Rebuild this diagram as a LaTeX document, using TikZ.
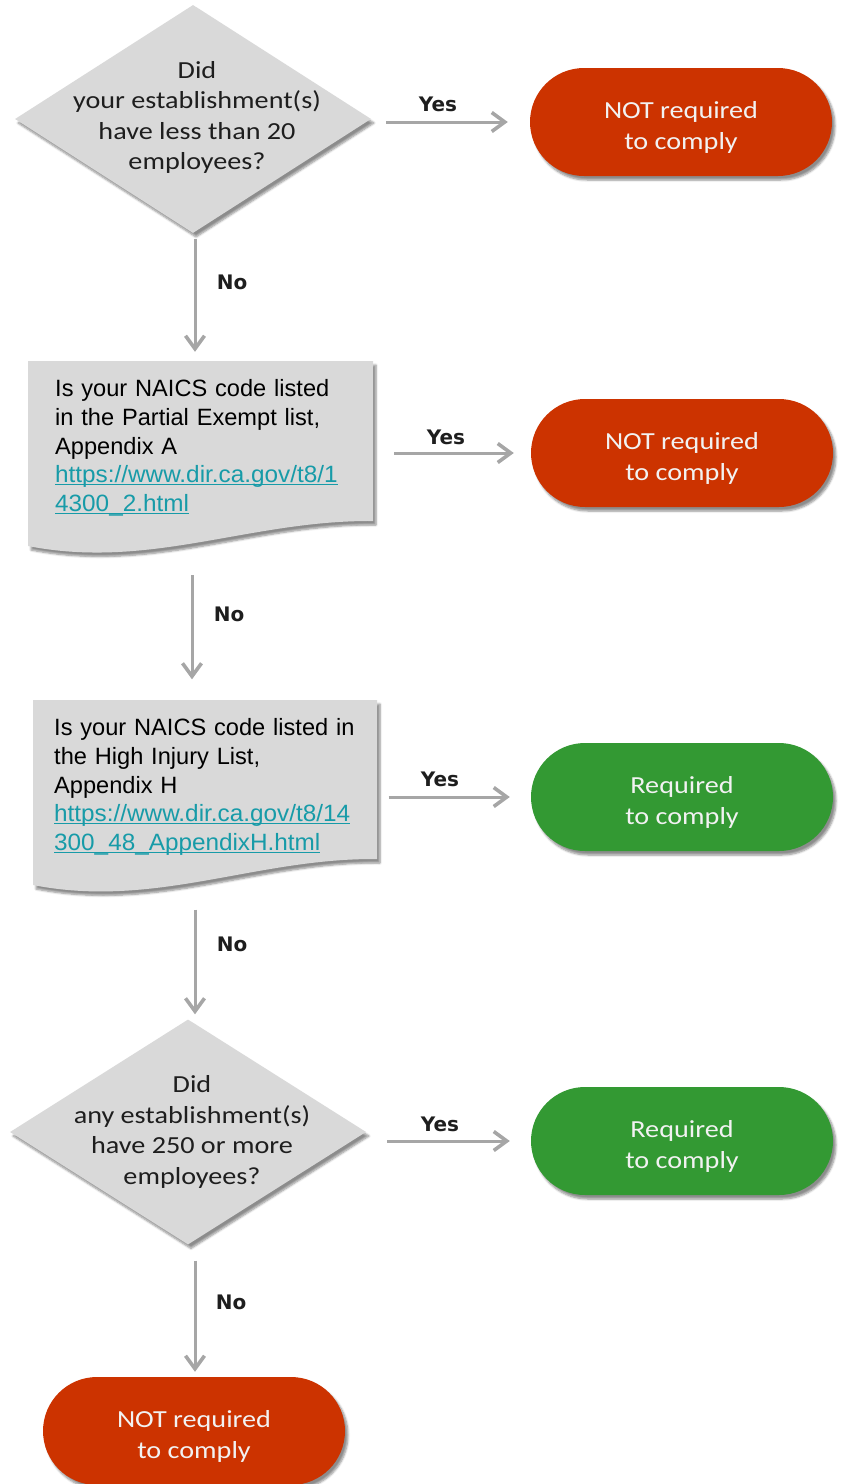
\documentclass[tikz,border=0pt]{standalone}
\usepackage{fontspec}
\setmainfont{Liberation Sans}
\newfontfamily\calfont{Carlito}[FakeStretch=1.15]
\newfontfamily\labfont{DejaVu Sans}
\newfontfamily\linkfont{Liberation Sans}[FakeStretch=1.03]
\usetikzlibrary{arrows.meta,shapes.geometric,shadows.blur}
\definecolor{boxgray}{HTML}{D9D9D9}
\definecolor{termred}{HTML}{CC3300}
\definecolor{termgreen}{HTML}{339933}
\definecolor{arrgray}{HTML}{A6A6A6}
\definecolor{linkteal}{HTML}{179BA8}
\definecolor{txtdark}{HTML}{1E1E1E}
\newcommand\lnk[1]{\setbox0\hbox{\linkfont #1}\rlap{\rule[-2.6pt]{\wd0}{1.3pt}}\box0}
\newcommand\termtxt[2]{\raisebox{0pt}[\dimexpr\height+12pt\relax][\depth]{\begin{tabular}{@{}c@{}}#1\\#2\end{tabular}}}
\begin{document}
\begin{tikzpicture}[x=1pt,y=-1pt,
  shd/.style={blur shadow={shadow xshift=3pt,shadow yshift=-4pt,shadow blur steps=6,shadow opacity=45}},
  dia/.style={diamond,fill=boxgray,inner sep=0pt,minimum width=356pt,shd},
  qtext/.style={font=\calfont\fontsize{24.5}{30.5}\selectfont,text=txtdark,align=center,inner sep=0pt},
  term/.style={rectangle,rounded corners=54pt,minimum width=302pt,minimum height=108pt,inner sep=0pt,
    text=white!95!black,font=\calfont\fontsize{24.5}{31}\selectfont,shd},
  redterm/.style={term,fill=termred},
  greenterm/.style={term,fill=termgreen},
  docnode/.style={rectangle,inner sep=0pt,minimum width=345pt,minimum height=189pt},
  doctext/.style={font=\fontsize{23.6}{28.6}\selectfont,text=black,align=left,anchor=north west,inner sep=0pt,text width=330pt},
  docshape/.style={fill=boxgray,shd},
  arr/.style={draw=arrgray,line width=3pt,-{Straight Barb[length=13pt,width=19pt,line width=3.6pt]}},
  lab/.style={font=\labfont\bfseries\fontsize{20}{22}\selectfont,text=txtdark,inner sep=0pt}
]
\useasboundingbox (0,0) rectangle (842,1484);

% document shapes
\path[docshape] (28,361) -- (373,361) -- (373,521)
  .. controls (250,520) and (150,570) .. (28,546) -- cycle;
\path[docshape] (33,700) -- (377,700) -- (377,859)
  .. controls (255,858) and (155,909) .. (33,885) -- cycle;

% nodes
\node[dia,minimum height=228pt] (q1) at (193,119) {};
\node[qtext] (q1t) at (197,117.5) {Did\\your establishment(s)\\have less than 20\\employees?};

\node[docnode] (p1) at (200.5,455.5) {};
\node[doctext] (p1t) at (55,379.5) {Is your NAICS code listed\\in the Partial Exempt list,\\Appendix A\\
  \textcolor{linkteal}{\lnk{https://www.dir.ca.gov/t8/1}}\\\textcolor{linkteal}{\lnk{4300\_2.html}}};

\node[docnode] (p2) at (205,791) {};
\node[doctext] (p2t) at (54,718.5) {Is your NAICS code listed in\\the High Injury List,\\Appendix H\\
  \textcolor{linkteal}{\lnk{https://www.dir.ca.gov/t8/14}}\\\textcolor{linkteal}{\lnk{300\_48\_AppendixH.html}}};

\node[dia,minimum height=225pt] (q2) at (188,1132) {};
\node[qtext] (q2t) at (192,1132) {Did\\any establishment(s)\\have 250 or more\\employees?};

\node[redterm] (t1) at (681,122) {\termtxt{NOT required}{to comply}};
\node[redterm] (t2) at (682,453) {\termtxt{NOT required}{to comply}};
\node[greenterm] (t3) at (682,797) {\termtxt{Required}{to comply}};
\node[greenterm] (t4) at (682,1141) {\termtxt{Required}{to comply}};
\node[redterm] (t5) at (194,1431) {\termtxt{NOT required}{to comply}};

% connectors
\draw[arr,shorten <=15pt,shorten >=22pt] (q1.east |- t1) -- (t1.west);
\draw[arr,shorten <=21pt,shorten >=17pt] (p1.east |- t2) -- (t2.west);
\draw[arr,shorten <=11pt,shorten >=21pt] (p2.east |- t3) -- (t3.west);
\draw[arr,shorten <=21pt,shorten >=21pt] (q2.east |- t4) -- (t4.west);

\draw[arr,shorten <=6pt,shorten >=9pt] ([xshift=2pt]q1.south) -- ([xshift=2pt]q1.south |- p1.north);
\draw[arr,shorten <=25pt,shorten >=17pt] ([xshift=-8.5pt]p1.south) -- ([xshift=-8.5pt]p1.south |- p2.north);
\draw[arr,shorten <=24pt,shorten >=5pt] ([xshift=-10pt]p2.south) -- ([xshift=-10pt]p2.south |- q2.north);
\draw[arr,shorten <=16pt,shorten >=5pt] ([xshift=7pt]q2.south) -- ([xshift=7pt]q2.south |- t5.north);

% labels
\node[lab] (y1) at (438,104) {Yes};
\node[lab] (n1) at (232,282) {No};
\node[lab] (y2) at (446,437) {Yes};
\node[lab] (n2) at (229,614) {No};
\node[lab] (y3) at (440,779) {Yes};
\node[lab] (n3) at (232,944) {No};
\node[lab] (y4) at (440,1124) {Yes};
\node[lab] (n4) at (231,1302) {No};
\end{tikzpicture}
\end{document}
